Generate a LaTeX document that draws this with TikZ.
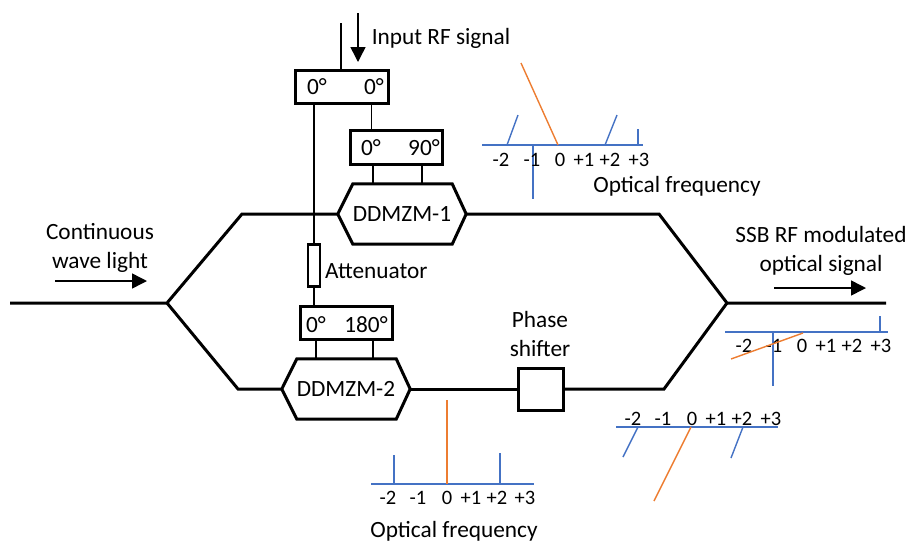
\documentclass[tikz,border=0pt]{standalone}
\usepackage{fontspec}
\setmainfont{Carlito}
\usetikzlibrary{arrows.meta}
\definecolor{specblue}{RGB}{68,114,196}
\definecolor{specorange}{RGB}{237,125,49}
\tikzset{
  lab/.style={font=\fontsize{23.3}{29}\selectfont,inner sep=0pt},
  tick/.style={font=\fontsize{20.5}{24}\selectfont,inner sep=0pt},
  guide/.style={line width=3pt,line join=miter},
  wire/.style={line width=1.5pt},
  boxed/.style={draw,line width=3pt,inner sep=0pt},
  hexbox/.style={font=\fontsize{23.3}{29}\selectfont,inner sep=0pt,minimum height=60pt},
  blueline/.style={specblue,line width=1.4pt},
  orangeline/.style={specorange,line width=1.4pt}
}

\begin{document}
\begin{tikzpicture}[line cap=butt,>={Triangle[length=15pt,width=15pt]},x=1pt,y=-1pt]
\useasboundingbox (0,0) rectangle (907,542);

% boxes and modulators
\node [boxed,minimum width=93pt,minimum height=33pt] (splitA) at (341.5,86.5) {};
\node [boxed,minimum width=92pt,minimum height=34pt] (splitB) at (396,147) {};
\node [boxed,minimum width=92pt,minimum height=33pt] (splitC) at (346,322.5) {};
\node [boxed,line width=2.2pt,minimum width=12pt,minimum height=42pt] (atten) at (314,265.5) {};
\node [boxed,minimum width=45pt,minimum height=42pt] (phase) at (540.5,389) {};
\node [hexbox,minimum width=128pt] (hexA) at (402,214) {DDMZM-1};
\node [hexbox,minimum width=128pt] (hexB) at (346,389) {DDMZM-2};
\draw [guide] (hexA.west)-- ([xshift=15pt]hexA.north west)-- ([xshift=-14pt]hexA.north east)-- (hexA.east)-- ([xshift=-14pt]hexA.south east)-- ([xshift=15pt]hexA.south west)-- cycle;
\draw [guide] (hexB.west)-- ([xshift=15pt]hexB.north west)-- ([xshift=-14pt]hexB.north east)-- (hexB.east)-- ([xshift=-14pt]hexB.south east)-- ([xshift=15pt]hexB.south west)-- cycle;

\node [lab] (degA) at (317,87) {0°};
\node [lab] (degB) at (374,87) {0°};
\node [lab] (degC) at (371,148) {0°};
\node [lab] (degD) at (424,148) {90°};
\node [lab] (degE) at (316,325) {0°};
\node [lab] (degF) at (366,325) {180°};

% optical paths
\coordinate (inL) at (10,303);
\coordinate (inJ) at (167,303);
\coordinate (upL) at (242,214);
\coordinate (loL) at (238,389);
\coordinate (upR) at (659,214);
\coordinate (loR) at (664,389);
\coordinate (outJ) at (727,303);
\coordinate (outR) at (886,303);
\draw [guide] (inL)-- (inJ)-- (upL)-- (hexA.west);
\draw [guide] (inJ)-- (loL)-- (hexB.west);
\draw [guide] (hexA.east)-- (upR)-- (outJ)-- (outR);
\draw [guide] (hexB.east)-- (phase.west);
\draw [guide] (phase.east)-- (loR)-- (outJ);

% RF wires
\coordinate (rfA) at (341,23);
\coordinate (rfB) at (358,13);
\coordinate (rfC) at (358,62);
\draw [wire] (rfA)-- (rfA |- splitA.north);
\draw [wire,->] (rfB)-- (rfC);
\draw [wire] (atten.north |- splitA.south)-- (atten.north);
\draw [wire] (atten.south)-- (atten.south |- splitC.north);
\draw [wire] ([xshift=-24.5pt]splitB.north |- splitA.south)-- ([xshift=-24.5pt]splitB.north);
\draw [wire] ([xshift=-23pt]splitB.south)-- ([xshift=-23pt]splitB.south |- hexA.north);
\draw [wire] ([xshift=26pt]splitB.south)-- ([xshift=26pt]splitB.south |- hexA.north);
\draw [wire] ([xshift=-30pt]splitC.south)-- ([xshift=-30pt]splitC.south |- hexB.north);
\draw [wire] ([xshift=27pt]splitC.south)-- ([xshift=27pt]splitC.south |- hexB.north);

% labels
\node [lab] (rfLabel) at (441,38) {Input RF signal};
\node [lab,align=center] (cwLabel) at (100,248) {Continuous\\wave light};
\node [lab,align=center] (ssbLabel) at (821,250.5) {SSB RF modulated\\optical signal};
\node [lab,anchor=west] (attLabel) at (325,271) {Attenuator};
\node [lab,align=center] (phaseLabel) at (540,334) {Phase\\shifter};
\node [lab] (freqA) at (677,186) {Optical frequency};
\node [lab] (freqB) at (454,531) {Optical frequency};

\coordinate (cwA) at (55,281);
\coordinate (cwB) at (147,281);
\coordinate (ssbA) at (774,288);
\coordinate (ssbB) at (866,288);
\draw [wire,->] (cwA)-- (cwB);
\draw [wire,->] (ssbA)-- (ssbB);

% spectrum after DDMZM-1
\draw [blueline] (482,145)-- (643,145);
\draw [blueline] (507,145)-- (518,115);
\draw [blueline] (533,145)-- (533,199);
\draw [orangeline] (558,145)-- (521,63);
\draw [blueline] (605,145)-- (617,115);
\draw [blueline] (638,145)-- (638,129);
\foreach \x/\t/\n in {501/-2/a,532/-1/b,560/0/c,584/+1/d,610/+2/e,639/+3/f}
  \node [tick] (up\n) at (\x,160) {\t};

% spectrum after DDMZM-2
\draw [blueline] (371,484)-- (534,484);
\draw [blueline] (394,484)-- (394,455);
\draw [orangeline] (447,484)-- (447,400);
\draw [blueline] (500,484)-- (500,453);
\foreach \x/\t/\n in {388/-2/a,418/-1/b,447/0/c,471/+1/d,497/+2/e,525/+3/f}
  \node [tick] (lo\n) at (\x,498) {\t};

% spectrum after phase shifter
\draw [blueline] (616,427)-- (778,427);
\draw [blueline] (638,427)-- (623,457);
\draw [orangeline] (691,427)-- (654,501);
\draw [blueline] (743,427)-- (731,458);
\foreach \x/\t/\n in {633/-2/a,663/-1/b,692/0/c,716/+1/d,742/+2/e,771/+3/f}
  \node [tick] (ps\n) at (\x,419) {\t};

% output spectrum
\draw [blueline] (725,332)-- (888,332);
\draw [blueline] (773,332)-- (773,386);
\draw [blueline] (880,332)-- (880,316);
\foreach \x/\t/\n in {744/-2/a,774/-1/b,802/0/c,826/+1/d,852/+2/e,881/+3/f}
  \node [tick] (out\n) at (\x,346) {\t};
\draw [orangeline] (803,333)-- (731,359);
\end{tikzpicture}
\end{document}
